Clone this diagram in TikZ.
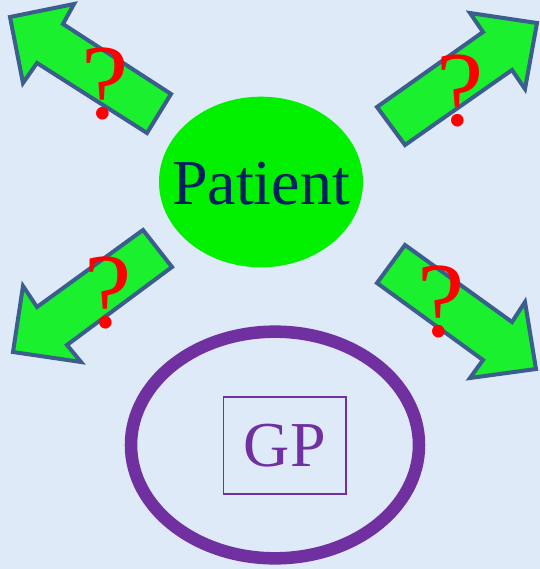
\documentclass[tikz,border=0pt]{standalone}
\usepackage{fontspec}
\setmainfont{Liberation Serif}
\usetikzlibrary{shapes.geometric}
\definecolor{bgblue}{RGB}{222,234,247}
\definecolor{arrgreen}{RGB}{26,240,46}
\definecolor{arredge}{RGB}{59,94,140}
\definecolor{patgreen}{RGB}{0,240,0}
\definecolor{navy}{RGB}{0,32,96}
\definecolor{gppurple}{RGB}{112,48,160}
\tikzset{
  bigarrow/.style={fill=arrgreen, draw=arredge, line width=3pt, line join=miter},
  qmark/.style={text=red, font=\fontsize{80}{80}\selectfont, inner sep=0pt},
}
\begin{document}
\begin{tikzpicture}[x=0.75pt, y=-0.75pt]
\fill[bgblue] (0,0) rectangle (540,569);
\useasboundingbox (0,0) rectangle (540,569);
% arrows
\draw[bigarrow] (10,17) -- (74,4) -- (63,24) -- (171,94) -- (147,133) -- (37,63) -- (23,83) -- cycle;
\draw[bigarrow] (537,23) -- (470,13) -- (483,32) -- (377,107) -- (405,145) -- (512,70) -- (525,89) -- cycle;
\draw[bigarrow] (13,352) -- (23,286) -- (37,307) -- (143,230) -- (172,267) -- (67,345) -- (81,362) -- cycle;
\draw[bigarrow] (536,369) -- (525,302) -- (512,322) -- (405,245) -- (377,283) -- (483,360) -- (470,378) -- cycle;
% question marks
\node[qmark] (q1) at (105,84) {?};
\node[qmark] (q2) at (460,91) {?};
\node[qmark] (q3) at (108,293) {?};
\node[qmark] (q4) at (441,302) {?};
% patient
\node[ellipse, fill=patgreen, minimum width=153pt, minimum height=128pt, inner sep=0pt] (patient) at (261,182) {};
\node[text=navy, font=\fontsize{48}{48}\selectfont, inner sep=0pt] (patientlabel) at (261,184) {Patient};
% GP
\node[ellipse, draw=gppurple, line width=9.4pt, minimum width=216pt, minimum height=170pt, inner sep=0pt] (gpring) at (275,445) {};
\node[draw=gppurple, line width=1.1pt, minimum width=92pt, minimum height=73pt, inner sep=0pt,
      text=gppurple, font=\fontsize{48}{48}\selectfont] (gp) at (284.7,445.5) {GP};
\end{tikzpicture}
\end{document}
